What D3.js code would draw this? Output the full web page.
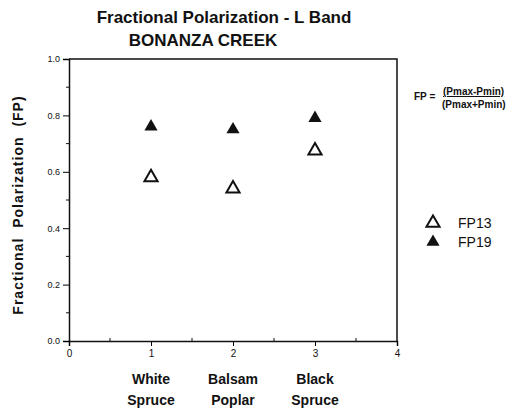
<!DOCTYPE html>
<html>
<head>
<meta charset="utf-8">
<script src="https://cdn.jsdelivr.net/npm/d3@7"></script>
<style>
  body { margin: 0; background: #fff; }
  text { font-family: "Liberation Sans", Arial, sans-serif; fill: #111; }
</style>
</head>
<body>
<div id="chart"></div>
<script>
// categories along the x axis (positions 1..3)
var categories = ["White Spruce", "Balsam Poplar", "Black Spruce"];
var catPos = [1, 2, 3];
// fractional polarization per series
var fp13 = [0.58, 0.54, 0.675];
var fp19 = [0.76, 0.75, 0.79];
var xTicks = [0, 1, 2, 3, 4];
var yTicks = [0.0, 0.2, 0.4, 0.6, 0.8, 1.0];

var width = 517, height = 412;
var x = d3.scaleLinear().domain([0, 4]).range([69, 397]);
var y = d3.scaleLinear().domain([0, 1]).range([341, 59]);

var svg = d3.select("#chart").append("svg")
    .attr("width", width)
    .attr("height", height);

// titles
svg.append("text")
    .attr("x", 224).attr("y", 23)
    .attr("text-anchor", "middle")
    .style("font-size", "17px").style("font-weight", "bold")
    .text("Fractional Polarization - L Band");
svg.append("text")
    .attr("x", 203).attr("y", 46)
    .attr("text-anchor", "middle")
    .style("font-size", "17px").style("font-weight", "bold")
    .text("BONANZA CREEK");

// frame (top + right)
svg.append("path")
    .attr("d", `M${x(0)},${y(1)}H${x(4)}V${y(0)}`)
    .attr("fill", "none").attr("stroke", "#111").attr("stroke-width", 1.5);

// y axis
var yAxis = svg.append("g")
    .attr("transform", `translate(${x(0)},0)`)
    .call(d3.axisLeft(y).tickValues(yTicks).tickFormat(d3.format(".1f")).tickSize(6).tickPadding(3));
yAxis.select(".domain").attr("stroke-width", 1.5).attr("stroke", "#111");
yAxis.selectAll("text").style("font-size", "9px");
// minor y ticks
svg.append("g").selectAll("line")
    .data(d3.range(0.1, 1, 0.2))
    .join("line")
    .attr("x1", x(0)).attr("x2", x(0) - 3)
    .attr("y1", d => y(d)).attr("y2", d => y(d))
    .attr("stroke", "#111");

// x axis
var xAxis = svg.append("g")
    .attr("transform", `translate(0,${y(0)})`)
    .call(d3.axisBottom(x).tickValues(xTicks).tickFormat(d3.format("d")).tickSize(5).tickPadding(4));
xAxis.select(".domain").attr("stroke-width", 1.5).attr("stroke", "#111");
xAxis.selectAll("text").style("font-size", "10px");
// minor x ticks (inward)
svg.append("g").selectAll("line")
    .data([0.5, 1.5, 2.5, 3.5])
    .join("line")
    .attr("x1", d => x(d)).attr("x2", d => x(d))
    .attr("y1", y(0)).attr("y2", y(0) - 3)
    .attr("stroke", "#111");

// category labels
var cat = svg.append("g").selectAll("text")
    .data(categories)
    .join("text")
    .attr("x", (d, i) => x(catPos[i]))
    .attr("y", 384)
    .attr("text-anchor", "middle")
    .style("font-size", "14px").style("font-weight", "bold");
cat.append("tspan").attr("x", (d, i) => x(catPos[i])).text(d => d.split(" ")[0]);
cat.append("tspan").attr("x", (d, i) => x(catPos[i])).attr("dy", 21).text(d => d.split(" ")[1]);

// y axis title
svg.append("text")
    .attr("transform", "translate(23,205) rotate(-90)")
    .attr("text-anchor", "middle")
    .style("font-size", "14px").style("font-weight", "bold")
    .style("letter-spacing", "1px").style("word-spacing", "5px")
    .text("Fractional Polarization (FP)");

// points
var tri = d3.symbol().type(d3.symbolTriangle).size(75);
svg.append("g").selectAll("path")
    .data(fp13)
    .join("path")
    .attr("d", tri)
    .attr("transform", (d, i) => `translate(${x(catPos[i])},${y(d)})`)
    .attr("fill", "#fff").attr("stroke", "#111").attr("stroke-width", 2);
svg.append("g").selectAll("path")
    .data(fp19)
    .join("path")
    .attr("d", tri)
    .attr("transform", (d, i) => `translate(${x(catPos[i])},${y(d)})`)
    .attr("fill", "#111");

// formula
svg.append("text")
    .attr("x", 414).attr("y", 100)
    .style("font-size", "10px").style("font-weight", "bold")
    .text("FP =");
svg.append("text")
    .attr("x", 443).attr("y", 95)
    .style("font-size", "10px").style("font-weight", "bold")
    .style("text-decoration", "underline")
    .text("(Pmax-Pmin)");
svg.append("text")
    .attr("x", 442).attr("y", 108)
    .style("font-size", "10px").style("font-weight", "bold")
    .text("(Pmax+Pmin)");

// legend
var legend = svg.append("g");
[["FP13", false], ["FP19", true]].forEach(function(l, i) {
    legend.append("path")
        .attr("d", tri)
        .attr("transform", `translate(433,${223 + i * 19})`)
        .attr("fill", l[1] ? "#111" : "#fff")
        .attr("stroke", "#111").attr("stroke-width", l[1] ? 0 : 2);
    legend.append("text")
        .attr("x", 458).attr("y", 228 + i * 19)
        .style("font-size", "14px")
        .text(l[0]);
});
</script>
</body>
</html>
